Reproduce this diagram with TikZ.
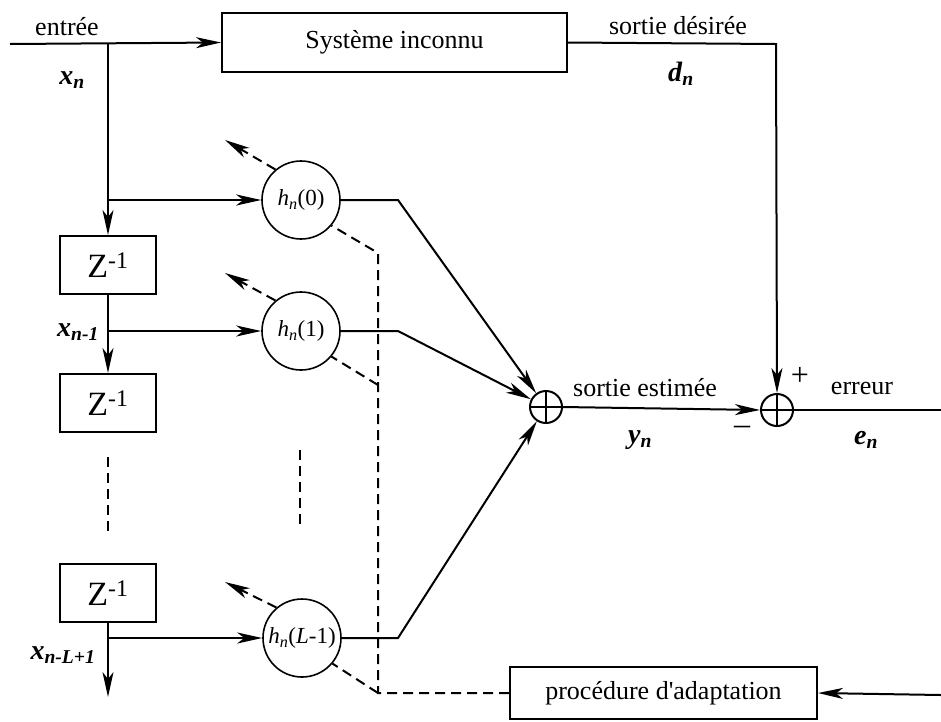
\documentclass[tikz,border=0pt]{standalone}
\usepackage{fontspec}
\setmainfont{Liberation Serif}
\usetikzlibrary{arrows.meta}
\newcommand\vsub[2]{\textit{#1}\textsubscript{\textit{#2}}}
\begin{document}
\begin{tikzpicture}[x=1pt,y=-1pt, line width=2pt,
  >={Stealth[length=25pt,width=11pt,inset=7pt]},
  box/.style={draw, rectangle, inner sep=0pt},
  zbox/.style={box, minimum width=96pt, minimum height=58pt, font=\fontsize{34}{36}\selectfont},
  tap/.style={draw, circle, minimum size=78pt, inner sep=0pt, line width=1.6pt, font=\fontsize{23}{25}\selectfont},
  sumnode/.style={draw, circle, minimum size=32pt, inner sep=0pt,
    path picture={\draw[line width=2pt] (path picture bounding box.north) -- (path picture bounding box.south) (path picture bounding box.west) -- (path picture bounding box.east);}},
  lab/.style={font=\fontsize{26}{28}\selectfont, inner sep=0pt},
  vlab/.style={font=\fontsize{28}{30}\selectfont\bfseries, inner sep=0pt},
  sign/.style={font=\fontsize{32}{34}\selectfont, inner sep=0pt},
  dsh/.style={dash pattern=on 10pt off 6pt},
]
\useasboundingbox (0,0) rectangle (941,721);

% boxes
\node[box, minimum width=345pt, minimum height=59pt, font=\fontsize{26}{28}\selectfont] (sys) at (394.5,42.5) {Système inconnu};
\node[zbox] (z1) at (108,265) {Z\textsuperscript{-1}};
\node[zbox] (z2) at (108,403) {Z\textsuperscript{-1}};
\node[zbox] (z3) at (108,593) {Z\textsuperscript{-1}};
\node[box, minimum width=307pt, minimum height=52pt, font=\fontsize{26}{28}\selectfont] (adapt) at (663.5,693) {procédure d\textquotesingle adaptation};

% taps
\node[tap] (h0) at (301,200) {\vsub{h}{n}(0)};
\node[tap] (h1) at (301,331) {\vsub{h}{n}(1)};
\node[tap] (hL) at (302,638) {\vsub{h}{n}(\textit{L}-1)};

% summers
\node[sumnode] (s1) at (546,407) {};
\node[sumnode] (s2) at (777,410) {};

% coordinates
\coordinate (in) at (10,44);
\coordinate (j0) at (108,44);
\coordinate (b0) at (108,200);
\coordinate (b1) at (108,331);
\coordinate (bL) at (108,638);
\coordinate (out) at (108,697);
\coordinate (dz1) at (108,457);
\coordinate (dz2) at (108,533);
\coordinate (dm1) at (300,450);
\coordinate (dm2) at (300,527);
\coordinate (c0) at (398,200);
\coordinate (c1) at (398,331);
\coordinate (cL) at (398,638);
\coordinate (dcorner) at (776,44);
\coordinate (eout) at (941,410);
\coordinate (ein) at (941,695);
\coordinate (a0) at (225,140);
\coordinate (a1) at (225,273);
\coordinate (aL) at (225,582);
\coordinate (v0) at (378,253);
\coordinate (v1) at (378,385);
\coordinate (vL) at (378,693);

% signal path
\draw[->] (in) -- (sys.west);
\draw[->] (j0) -- (z1.north);
\draw[->] (b0) -- (h0.west);
\draw[->] (z1.south) -- (z2.north);
\draw[->] (b1) -- (h1.west);
\draw[dsh] (dz1) -- (dz2);
\draw[dsh] (dm1) -- (dm2);
\draw[->] (z3.south) -- (out);
\draw[->] (bL) -- (hL.west);

% tap outputs to summer
\draw[->] (h0.east) -- (c0) -- (s1);
\draw[->] (h1.east) -- (c1) -- (s1);
\draw[->] (hL.east) -- (cL) -- (s1);

% desired output
\draw[->] (sys.east) -- (dcorner) -- (s2.north);
\draw[->] (s1.east) -- (s2.west);
\draw (s2.east) -- (eout);

% adaptation
\draw[->] (ein) -- (adapt.east);
\draw[dsh] (adapt.west) -- (vL) -- (v0) -- (h0.-40);
\draw[dsh] (v1) -- (h1.-40);
\draw[dsh] (vL) -- (hL.-40);
\draw[dsh,->] (h0.130) -- (a0);
\draw[dsh,->] (h1.130) -- (a1);
\draw[dsh,->] (hL.130) -- (aL);

% labels
\node[lab] (tin) at (67,27) {entrée};
\node[vlab] (txn) at (72,80) {\vsub{x}{n}};
\node[vlab] (txn1) at (78,332) {\vsub{x}{n-1}};
\node[vlab] (txnL) at (63,655) {\vsub{x}{n-L+1}};
\node[lab] (tdes) at (678,26) {sortie désirée};
\node[vlab] (tdn) at (681,74) {\vsub{d}{n}};
\node[lab] (test) at (645,388) {sortie estimée};
\node[vlab] (tyn) at (640,440) {\vsub{y}{n}};
\node[lab] (terr) at (862,388) {erreur};
\node[vlab] (ten) at (866,440) {\vsub{e}{n}};
\node[sign] (tplus) at (800,376) {+};
\node[sign] (tminus) at (742,430) {–};
\end{tikzpicture}
\end{document}
